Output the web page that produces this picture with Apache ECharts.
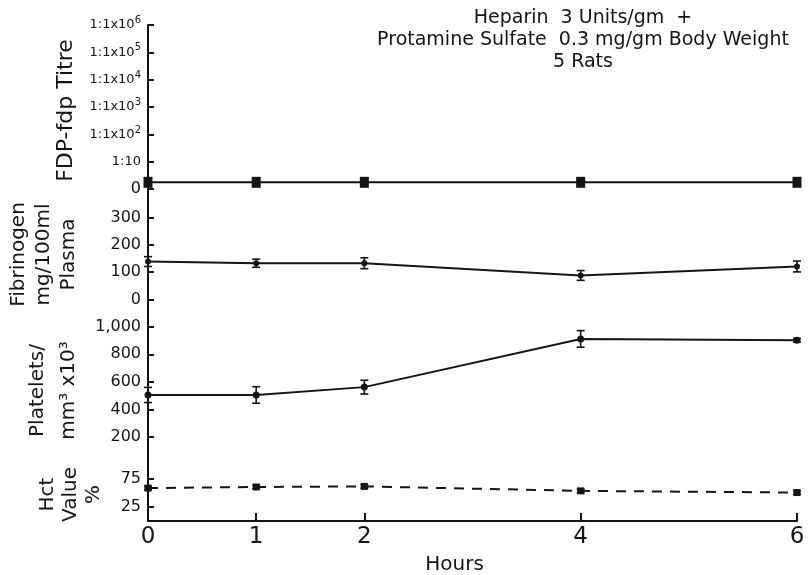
<!DOCTYPE html>
<html>
<head>
<meta charset="utf-8">
<script src="https://cdn.jsdelivr.net/npm/echarts@6/dist/echarts.min.js"></script>
<style>
  html, body { margin: 0; padding: 0; background: #fff; }
  #chart { width: 808px; height: 575px; }
</style>
</head>
<body>
<div id="chart"></div>
<script>
// hours after injection
var hours = [0, 1, 2, 4, 6];
var hourTicks = [0, 1, 2, 4, 6];

// FDP-fdp titre, in titre steps (0 = "0", 1 = "1:10", 2 = "1:1x10^2" ...)
var fdpMean = [0.25, 0.25, 0.25, 0.25, 0.25];
var fdpErr = [0.1, 0.1, 0.1, 0.08, 0.1];
var fdpTickLabels = ['0', '1:10', '1:1x10|2', '1:1x10|3', '1:1x10|4', '1:1x10|5', '1:1x10|6'];

// fibrinogen mg/100ml plasma
var fibMean = [139, 133, 133, 88, 121];
var fibErr = [18, 15, 20, 18, 20];
var fibTicks = [0, 100, 200, 300];

// platelets / mm3 x 10^3
var pltMean = [505, 505, 562, 912, 902];
var pltErr = [55, 60, 50, 60, 14];
var pltTicks = [200, 400, 600, 800, 1000];

// hematocrit %
var hctMean = [59, 61, 62, 54, 51];
var hctErr = [3, 3, 3, 3, 3];
var hctTicks = [25, 75];

var ink = '#151515';
var font = 'DejaVu Sans';

function pairs(ys) {
  return hours.map(function (h, i) { return [h, ys[i]]; });
}
function bars(ys, es) {
  return hours.map(function (h, i) { return [h, ys[i] - es[i], ys[i] + es[i]]; });
}

function errItem(params, api) {
  var x = api.value(0);
  var lo = api.coord([x, api.value(1)]);
  var hi = api.coord([x, api.value(2)]);
  var w = 4;
  var st = { stroke: ink, lineWidth: 1.6 };
  return {
    type: 'group',
    children: [
      { type: 'line', shape: { x1: hi[0], y1: hi[1], x2: lo[0], y2: lo[1] }, style: st },
      { type: 'line', shape: { x1: hi[0] - w, y1: hi[1], x2: hi[0] + w, y2: hi[1] }, style: st },
      { type: 'line', shape: { x1: lo[0] - w, y1: lo[1], x2: lo[0] + w, y2: lo[1] }, style: st }
    ]
  };
}

// panels share left/right, stacked without gaps
var panels = [
  { top: 25, height: 171 },
  { top: 196, height: 117 },
  { top: 313, height: 155 },
  { top: 468, height: 53 }
];

var grids = panels.map(function (p) {
  return { left: 148, right: 11, top: p.top, height: p.height, outerBoundsMode: 'none', containLabel: false };
});

var xAxes = panels.map(function (p, i) {
  var last = i === panels.length - 1;
  return {
    type: 'value', gridIndex: i, min: 0, max: 6,
    show: last,
    name: last ? 'Hours' : '',
    nameLocation: 'middle', nameGap: 34,
    nameTextStyle: { color: ink, fontFamily: font, fontSize: 20, padding: [0, 36, 0, 0] },
    axisLine: { onZero: false, lineStyle: { color: ink, width: 2 } },
    axisTick: { show: true, inside: true, length: 8, customValues: [1, 2, 4, 6], lineStyle: { color: ink, width: 2 } },
    axisLabel: { customValues: hourTicks, color: ink, fontFamily: font, fontSize: 23, margin: 5 },
    splitLine: { show: false }
  };
});

function yAxis(i, min, max, ticks, name, gap, nameSize, nameLine, fmt, rich) {
  return {
    type: 'value', gridIndex: i, min: min, max: max,
    name: name, nameLocation: 'middle', nameRotate: 90, nameGap: gap,
    nameTextStyle: { color: ink, fontFamily: font, fontSize: nameSize, lineHeight: nameLine },
    axisLine: { show: true, onZero: false, lineStyle: { color: ink, width: 2 } },
    axisTick: { show: true, inside: true, length: 6, customValues: ticks, lineStyle: { color: ink, width: 2 } },
    axisLabel: { customValues: ticks, color: ink, fontFamily: font, fontSize: 16, margin: 7, formatter: fmt, rich: rich },
    splitLine: { show: false }
  };
}

var yAxes = [
  yAxis(0, -0.25, 6, [0, 1, 2, 3, 4, 5, 6], 'FDP-fdp Titre', 69, 22, 24,
    function (v) {
      var s = fdpTickLabels[Math.round(v)].split('|');
      if (s.length > 1) return '{a|' + s[0] + '}{s|' + s[1] + '}';
      return s[0] === '0' ? '{z|0}' : '{a|' + s[0] + '}';
    },
    {
      a: { fontFamily: font, fontSize: 13, color: ink },
      z: { fontFamily: font, fontSize: 16, color: ink },
      s: { fontFamily: font, fontSize: 10, color: ink, padding: [0, 0, 9, 0] }
    }),
  yAxis(1, -50, 380, fibTicks, 'Fibrinogen\nmg/100ml\nPlasma', 67, 20, 25),
  yAxis(2, -25, 1100, pltTicks, 'Platelets/\nmm³ x10³', 63, 20, 31,
    function (v) { return v >= 1000 ? '1,000' : String(v); }),
  yAxis(3, 0, 95, hctTicks, 'Hct\nValue\n%', 43, 20, 23)
];

function lineSeries(i, ys, dashed, sym, size) {
  return {
    type: 'line', xAxisIndex: i, yAxisIndex: i, data: pairs(ys),
    symbol: sym, symbolSize: size,
    itemStyle: { color: ink },
    lineStyle: { color: ink, width: 2, type: dashed ? [10, 8] : 'solid' },
    z: 3
  };
}
function errSeries(i, ys, es) {
  return {
    type: 'custom', xAxisIndex: i, yAxisIndex: i, data: bars(ys, es),
    renderItem: errItem, encode: { x: 0, y: [1, 2] }, z: 4
  };
}

var chart = echarts.init(document.getElementById('chart'));
chart.setOption({
  backgroundColor: '#ffffff',
  animation: false,
  title: {
    text: 'Heparin  3 Units/gm  +\nProtamine Sulfate  0.3 mg/gm Body Weight\n5 Rats',
    left: 578, top: 2, textAlign: 'center',
    textStyle: { color: ink, fontFamily: font, fontSize: 19, fontWeight: 'normal', lineHeight: 22 }
  },
  grid: grids,
  xAxis: xAxes,
  yAxis: yAxes,
  series: [
    lineSeries(0, fdpMean, false, 'rect', [9, 11]),
    errSeries(0, fdpMean, fdpErr),
    lineSeries(1, fibMean, false, 'circle', 6),
    errSeries(1, fibMean, fibErr),
    lineSeries(2, pltMean, false, 'circle', 7),
    errSeries(2, pltMean, pltErr),
    lineSeries(3, hctMean, true, 'rect', 7),
    errSeries(3, hctMean, hctErr)
  ]
});
</script>
</body>
</html>
